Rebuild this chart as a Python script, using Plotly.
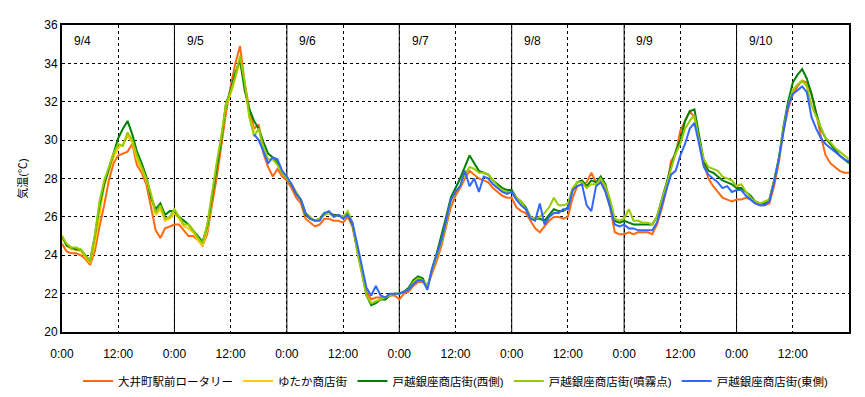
import pandas as pd
import plotly.graph_objects as go

# ---------------- data (hourly readings, °C) ----------------
series_names = ["大井町駅前ロータリー", "ゆたか商店街", "戸越銀座商店街(西側)",
                "戸越銀座商店街(噴霧点)", "戸越銀座商店街(東側)"]
series_colors = ["#FF6A10", "#FFCC00", "#008000", "#99CC00", "#3366FF"]
series_starts = ["2015-09-04 00:00", "2015-09-04 00:00", "2015-09-04 00:00",
                 "2015-09-04 00:00", "2015-09-05 17:00"]

oimachi = [
    24.6, 24.2, 24.1, 24.1, 24.0, 23.8, 23.5, 24.2, 25.5, 26.6, 27.9, 28.8, 29.2, 29.3, 29.4, 29.8, 28.7, 28.3, 27.7, 26.5, 25.3, 24.9, 25.4, 25.5,
    25.6, 25.6, 25.3, 25.0, 25.0, 24.8, 24.5, 25.1, 26.6, 28.0, 29.7, 31.4, 32.8, 34.0, 34.9, 33.0, 31.6, 30.6, 30.8, 29.3, 28.6, 28.1, 28.5, 28.1,
    27.9, 27.5, 27.0, 26.7, 25.9, 25.7, 25.5, 25.6, 25.9, 25.9, 25.8, 25.8, 25.7, 26.0, 25.5, 24.3, 23.2, 22.1, 21.7, 21.8, 21.8, 21.7, 21.9, 21.9,
    21.7, 22.0, 22.1, 22.4, 22.6, 22.6, 22.4, 23.0, 23.7, 24.5, 25.5, 26.5, 27.1, 27.5, 28.0, 28.4, 28.2, 28.0, 27.9, 27.8, 27.5, 27.3, 27.1, 27.0,
    27.0, 26.5, 26.3, 26.2, 25.8, 25.4, 25.2, 25.5, 25.8, 26.0, 26.0, 25.9, 26.0, 27.0, 27.6, 27.7, 27.8, 28.3, 27.8, 27.9, 27.4, 26.5, 25.2, 25.1,
    25.1, 25.2, 25.1, 25.2, 25.2, 25.2, 25.1, 25.6, 26.4, 27.4, 28.9, 29.3, 30.5, 31.0, 31.5, 31.2, 30.0, 28.8, 28.0, 27.6, 27.3, 27.0, 26.9, 26.8,
    26.9, 26.9, 27.0, 26.9, 26.7, 26.6, 26.6, 26.7, 27.6, 28.8, 30.5, 31.6, 32.4, 32.8, 33.1, 33.0, 32.4, 31.4, 30.2, 29.2, 28.8, 28.6, 28.4, 28.3, 28.3,
]

yutaka = [
    24.9, 24.5, 24.3, 24.3, 24.2, 23.9, 23.6, 24.6, 26.2, 27.6, 28.4, 29.1, 29.6, 29.8, 30.2, 29.9, 29.0, 28.5, 27.9, 27.0, 26.1, 26.4, 25.8, 25.9,
    26.2, 25.9, 25.5, 25.4, 25.2, 24.8, 24.5, 25.3, 27.0, 28.6, 30.0, 31.8, 32.4, 33.2, 34.1, 32.8, 31.2, 30.4,
]

togoshi_west = [
    25.0, 24.5, 24.4, 24.3, 24.3, 24.0, 23.7, 25.0, 26.6, 27.7, 28.5, 29.3, 30.1, 30.6, 31.0, 30.3, 29.4, 28.8, 28.1, 27.0, 26.4, 26.7, 26.1, 26.3,
    26.3, 26.0, 25.8, 25.6, 25.3, 25.0, 24.7, 25.5, 27.0, 28.6, 30.0, 31.9, 32.6, 33.5, 34.2, 32.6, 31.6, 31.0, 30.6, 29.9, 29.3, 29.1, 28.8, 28.3,
    28.0, 27.7, 27.2, 26.9, 26.1, 25.9, 25.8, 25.9, 26.2, 26.2, 26.1, 26.1, 26.0, 26.2, 25.6, 24.3, 23.1, 21.9, 21.4, 21.5, 21.7, 21.7, 21.9, 22.0,
    22.0, 22.1, 22.3, 22.7, 22.9, 22.8, 22.3, 23.3, 24.1, 25.0, 26.0, 27.0, 27.5, 28.0, 28.6, 29.2, 28.8, 28.4, 28.3, 28.2, 27.9, 27.7, 27.5, 27.4,
    27.4, 27.0, 26.8, 26.5, 26.0, 25.9, 25.9, 25.8, 26.1, 26.4, 26.3, 26.3, 26.5, 27.4, 27.8, 27.9, 27.6, 27.9, 27.8, 28.1, 27.7, 26.8, 25.8, 25.7,
    25.8, 25.7, 25.6, 25.6, 25.6, 25.6, 25.6, 26.0, 26.9, 27.8, 28.6, 29.4, 30.0, 31.0, 31.5, 31.6, 30.2, 28.9, 28.4, 28.3, 28.1, 27.9, 27.8, 27.7,
    27.5, 27.5, 27.3, 27.1, 26.8, 26.7, 26.7, 26.9, 27.9, 29.0, 30.7, 32.0, 33.0, 33.4, 33.7, 33.2, 32.4, 31.4, 30.6, 30.1, 29.8, 29.5, 29.2, 29.0, 28.8,
]

togoshi_mist = [
    25.0, 24.6, 24.4, 24.4, 24.3, 24.0, 23.7, 25.0, 26.8, 27.9, 28.6, 29.3, 29.8, 29.7, 30.4, 30.0, 29.2, 28.6, 28.0, 27.2, 26.2, 26.6, 25.9, 26.0,
    26.4, 26.0, 25.6, 25.6, 25.3, 24.9, 24.6, 25.6, 27.3, 28.8, 30.2, 31.9, 32.5, 33.3, 34.4, 33.0, 31.2, 30.2, 30.6, 29.6, 29.0, 29.0, 28.7, 28.3,
    28.0, 27.7, 27.3, 26.9, 26.2, 26.0, 25.8, 25.9, 26.1, 26.2, 26.0, 26.1, 26.0, 26.3, 25.7, 24.2, 23.0, 21.9, 21.5, 21.6, 21.7, 21.8, 21.9, 22.0,
    22.0, 22.1, 22.2, 22.6, 22.8, 22.7, 22.4, 23.2, 23.9, 24.7, 25.7, 26.8, 27.3, 27.6, 28.2, 28.6, 28.5, 28.3, 28.3, 28.2, 27.9, 27.6, 27.4, 27.3,
    27.3, 27.0, 26.8, 26.4, 26.0, 25.9, 26.0, 26.2, 26.5, 27.0, 26.6, 26.6, 26.7, 27.5, 27.8, 27.8, 27.5, 27.7, 27.7, 28.0, 27.6, 26.9, 25.9, 25.8,
    25.9, 26.4, 25.8, 25.8, 25.7, 25.7, 25.6, 26.0, 26.8, 27.7, 28.5, 29.3, 29.8, 30.6, 31.0, 31.3, 30.0, 29.0, 28.6, 28.5, 28.4, 28.1, 28.0, 27.9,
    27.6, 27.7, 27.3, 27.0, 26.8, 26.7, 26.8, 26.9, 27.9, 29.0, 30.6, 31.8, 32.6, 32.9, 33.1, 32.8, 31.8, 31.2, 30.6, 30.1, 29.9, 29.6, 29.4, 29.2, 29.0,
]

togoshi_east = [
    30.3, 30.0, 29.4, 28.8, 29.1, 29.0, 28.4,
    28.1, 27.7, 27.2, 26.9, 26.2, 25.9, 25.8, 25.8, 26.2, 26.3, 26.0, 26.1, 25.9, 26.1, 25.7, 24.6, 23.5, 22.3, 21.9, 22.4, 21.9, 21.8, 22.0, 22.0,
    22.0, 22.1, 22.2, 22.5, 22.7, 22.7, 22.2, 23.3, 24.0, 24.8, 25.8, 26.9, 27.3, 27.6, 28.4, 27.6, 28.0, 27.3, 28.1, 28.0, 27.7, 27.5, 27.3, 27.2,
    27.3, 26.9, 26.6, 26.4, 25.9, 25.8, 26.7, 25.6, 26.0, 26.2, 26.2, 26.4, 26.4, 27.4, 27.6, 27.7, 26.6, 26.3, 27.6, 27.8, 27.3, 26.5, 25.6, 25.5,
    25.6, 25.4, 25.4, 25.3, 25.3, 25.3, 25.3, 25.7, 26.6, 27.4, 28.2, 28.4, 29.2, 29.8, 30.6, 30.9, 29.8, 28.6, 28.2, 28.0, 27.8, 27.5, 27.6, 27.3,
    27.4, 27.4, 27.1, 26.9, 26.7, 26.6, 26.6, 26.8, 27.8, 29.0, 30.4, 31.8, 32.4, 32.6, 32.8, 32.5, 31.2, 30.6, 30.1, 29.8, 29.6, 29.4, 29.2, 29.0, 28.9,
]

day_labels = ["9/4", "9/5", "9/6", "9/7", "9/8", "9/9", "9/10"]
day_starts = ["2015-09-04", "2015-09-05", "2015-09-06", "2015-09-07",
              "2015-09-08", "2015-09-09", "2015-09-10"]
x_tick_labels = ["0:00", "12:00"] * 7
x_start, x_end = "2015-09-04 00:00", "2015-09-11 00:00"
y_title = "気温(℃)"

# ---------------- figure ----------------
FONT = "Liberation Sans, Noto Sans CJK JP, sans-serif"
all_values = [oimachi, yutaka, togoshi_west, togoshi_mist, togoshi_east]

fig = go.Figure()
for name, color, start, vals in zip(series_names, series_colors, series_starts, all_values):
    t = pd.date_range(start, periods=len(vals), freq="h")
    fig.add_trace(go.Scatter(x=t, y=vals, mode="lines", name=name,
                             line=dict(color=color, width=2)))

# solid day separators
for d in day_starts[1:]:
    fig.add_shape(type="line", xref="x", yref="paper", x0=d, x1=d, y0=0, y1=1,
                  line=dict(color="black", width=1), layer="below")

# day labels
for lab, d in zip(day_labels, day_starts):
    fig.add_annotation(x=pd.Timestamp(d) + pd.Timedelta(hours=2.2), y=35.15,
                       xref="x", yref="y", text=lab, showarrow=False,
                       xanchor="left", yanchor="middle",
                       font=dict(size=12, color="black", family=FONT))

tick_vals = pd.date_range(x_start, periods=len(x_tick_labels), freq="12h")

fig.update_layout(
    width=865, height=397,
    margin=dict(l=62, r=16, t=25, b=65, autoexpand=False),
    paper_bgcolor="white", plot_bgcolor="white",
    font=dict(family=FONT, size=12, color="black"),
    showlegend=True,
    legend=dict(orientation="h", x=0.5, xanchor="center", y=-0.16, yanchor="middle",
                font=dict(size=11.5, family=FONT), itemwidth=30, tracegroupgap=0,
                bgcolor="rgba(0,0,0,0)"),
)
fig.update_xaxes(
    type="date", range=[x_start, x_end],
    tickmode="array", tickvals=tick_vals, ticktext=x_tick_labels,
    showgrid=True, gridcolor="black", gridwidth=1, griddash="3px,3px",
    showline=True, linecolor="black", linewidth=2, mirror=True,
    ticks="", ticklabelstandoff=10, zeroline=False, automargin=False,
    tickfont=dict(size=12, family=FONT),
)
fig.update_yaxes(
    range=[20, 36], dtick=2, tick0=20,
    showgrid=True, gridcolor="black", gridwidth=1, griddash="3px,3px",
    showline=True, linecolor="black", linewidth=2, mirror=True,
    ticks="", zeroline=False, automargin=False,
    tickfont=dict(size=12, family=FONT),
    title=dict(text=y_title, standoff=14, font=dict(size=11, family=FONT)),
)

fig.write_html("out.html", config={"displayModeBar": False},
               post_script="document.body.style.margin='0';")
